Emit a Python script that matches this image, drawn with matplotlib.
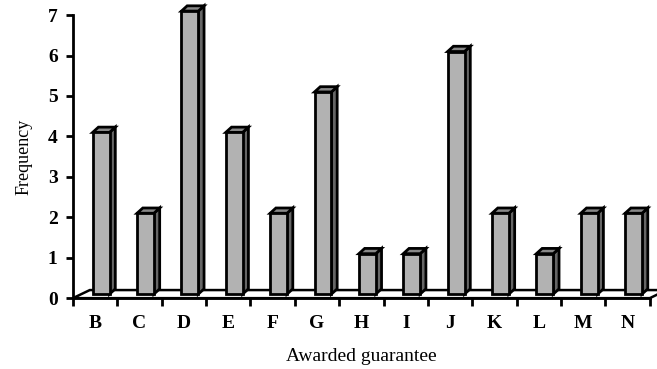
import matplotlib
matplotlib.use("Agg")
import matplotlib.pyplot as plt
from matplotlib.patches import Polygon

# data
categories = ['B', 'C', 'D', 'E', 'F', 'G', 'H', 'I', 'J', 'K', 'L', 'M', 'N']
frequency = [4, 2, 7, 4, 2, 5, 1, 1, 6, 2, 1, 2, 2]

plt.rcParams['font.family'] = ['Liberation Serif', 'DejaVu Serif']

fig = plt.figure(figsize=(6.57, 3.69), dpi=100)
ax = fig.add_axes([0.111, 0.192, 0.878, 0.767])

n = len(categories)
ax.set_xlim(0, n)
ax.set_ylim(0, 7)

# pseudo 3d settings (data units)
floor_dx, floor_dy = 0.38, 0.2
shift_x, shift_y = 0.135, 0.1
bar_w = 0.38
side_dx, side_dy = 0.13, 0.13
front_c, side_c, top_c = '#b2b2b2', '#666666', '#888888'
lw = 2.0

# floor
floor = Polygon([(0, 0), (n, 0), (n + floor_dx, floor_dy), (floor_dx, floor_dy)],
                closed=True, facecolor='white', edgecolor='black', lw=1.8,
                clip_on=False, zorder=1)
ax.add_patch(floor)

for i, v in enumerate(frequency):
    x0 = i + 0.5 - bar_w / 2 + shift_x
    x1 = x0 + bar_w
    y0 = shift_y
    y1 = v + shift_y
    front = Polygon([(x0, y0), (x1, y0), (x1, y1), (x0, y1)], closed=True,
                    facecolor=front_c, edgecolor='black', lw=lw, clip_on=False, zorder=3)
    side = Polygon([(x1, y0), (x1 + side_dx, y0 + side_dy), (x1 + side_dx, y1 + side_dy), (x1, y1)],
                   closed=True, facecolor=side_c, edgecolor='black', lw=lw, clip_on=False, zorder=3)
    top = Polygon([(x0, y1), (x1, y1), (x1 + side_dx, y1 + side_dy), (x0 + side_dx, y1 + side_dy)],
                  closed=True, facecolor=top_c, edgecolor='black', lw=lw, clip_on=False, zorder=3)
    ax.add_patch(side)
    ax.add_patch(top)
    ax.add_patch(front)

# axes styling
for s in ['top', 'right']:
    ax.spines[s].set_visible(False)
ax.spines['left'].set_linewidth(2)
ax.spines['bottom'].set_linewidth(2)
ax.spines['left'].set_zorder(4)
ax.spines['bottom'].set_zorder(4)

ax.set_yticks(range(0, 8))
ax.tick_params(axis='y', direction='out', length=5, width=2, pad=6, labelsize=14)
for lab in ax.get_yticklabels():
    lab.set_fontweight('bold')

ax.set_xticks(range(0, n + 1))
ax.set_xticklabels([])
ax.tick_params(axis='x', which='major', direction='out', length=6, width=2)
ax.set_xticks([i + 0.5 for i in range(n)], minor=True)
ax.set_xticklabels(categories, minor=True, fontweight='bold', fontsize=14)
ax.tick_params(axis='x', which='minor', length=0, pad=12)

ax.set_ylabel('Frequency', fontsize=13, labelpad=11)
ax.set_xlabel('Awarded guarantee', fontsize=14, labelpad=12)

fig.savefig('out.png', dpi=100)
